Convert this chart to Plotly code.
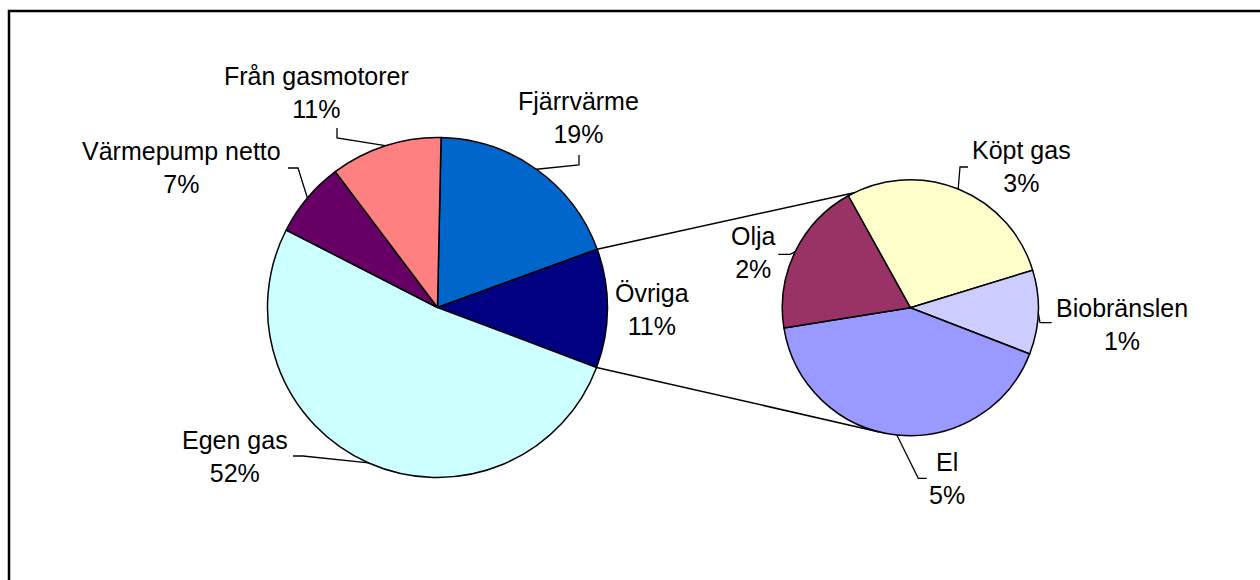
import math
import plotly.graph_objects as go

# ---------------- data ----------------
main_labels = ["Fjärrvärme", "Övriga", "Egen gas", "Värmepump netto", "Från gasmotorer"]
main_values = [19.1, 11.3, 51.8, 7.2, 10.6]
main_colors = ["#0066CC", "#000080", "#CCFFFF", "#660066", "#FF8080"]

sec_labels = ["Köpt gas", "Biobränslen", "El", "Olja"]
sec_values = [3.2, 1.2, 4.7, 2.2]
sec_colors = ["#FFFFCC", "#CCCCFF", "#9999FF", "#993366"]

# ---------------- geometry / style ----------------
W, H = 1260, 580
MAIN_C, MAIN_R, MAIN_ROT = (437.5, 307.5), 170.0, 1.2
SEC_C, SEC_R, SEC_ROT = (910.3, 307.7), 128.0, 331.0
SPLIT_INDEX = 1  # "Övriga" is exploded into the secondary pie
SEC_CONNECT_ANGLES = (334.0, 194.0)
FONT = dict(family="Liberation Sans, Arial, sans-serif", size=25, color="black")

# label centres and leader elbows (pixels)
main_label_layout = {
    "Fjärrvärme": ((578, 118), [(579, 165), (579, 155)]),
    "Övriga": ((652, 309), None),
    "Egen gas": ((235, 456), [(303, 456), (293, 456)]),
    "Värmepump netto": ((182, 167.5), [(298, 168), (288, 168)]),
    "Från gasmotorer": ((316, 92.5), [(337, 138), (337, 128)]),
}
sec_label_layout = {
    "Köpt gas": ((1021.7, 167), [(960, 167), (968, 167)]),
    "Biobränslen": ((1121.7, 324), [(1040, 322.7), (1051.7, 322.7)]),
    "El": ((947, 478), [(918.3, 478.3), (926.7, 478.3)]),
    "Olja": ((753, 253), [(790, 254.3), (778.3, 254.3)]),
}


def px(x):
    return x / W


def py(y):
    return 1 - y / H


def edge_point(center, r, ang_deg):
    a = math.radians(ang_deg)
    return center[0] + r * math.sin(a), center[1] - r * math.cos(a)


def domain(center, r):
    return dict(x=[px(center[0] - r), px(center[0] + r)],
                y=[py(center[1] + r), py(center[1] - r)])


def slice_angles(values, rot):
    tot = sum(values)
    out, cum = [], 0.0
    for v in values:
        a0 = rot + 360 * cum / tot
        cum += v
        a1 = rot + 360 * cum / tot
        out.append((a0, a1))
    return out


total = sum(main_values)

fig = go.Figure()
fig.add_trace(go.Pie(
    labels=main_labels, values=main_values, sort=False, direction="clockwise",
    rotation=MAIN_ROT, textinfo="none", showlegend=False,
    marker=dict(colors=main_colors, line=dict(color="black", width=1.5)),
    domain=domain(MAIN_C, MAIN_R),
))
fig.add_trace(go.Pie(
    labels=sec_labels, values=sec_values, sort=False, direction="clockwise",
    rotation=SEC_ROT, textinfo="none", showlegend=False,
    marker=dict(colors=sec_colors, line=dict(color="black", width=1.5)),
    domain=domain(SEC_C, SEC_R),
))

shapes = []
annotations = []


def add_poly(points, width=1.3):
    path = "M " + " L ".join(f"{px(x)},{py(y)}" for x, y in points)
    shapes.append(dict(type="path", path=path, xref="paper", yref="paper",
                       line=dict(color="black", width=width)))


def add_labels(labels, values, center, r, rot, layout):
    for (lab, v), (a0, a1) in zip(zip(labels, values), slice_angles(values, rot)):
        (cx, cy), elbows = layout[lab]
        pct = round(v / total * 100)
        annotations.append(dict(x=px(cx), y=py(cy), xref="paper", yref="paper",
                                text=f"{lab}<br>{pct}%", showarrow=False,
                                xanchor="center", yanchor="middle", font=FONT))
        if elbows:
            start = edge_point(center, r, (a0 + a1) / 2)
            add_poly([start] + elbows)


add_labels(main_labels, main_values, MAIN_C, MAIN_R, MAIN_ROT, main_label_layout)
add_labels(sec_labels, sec_values, SEC_C, SEC_R, SEC_ROT, sec_label_layout)

# connector lines between the Övriga slice and the secondary pie
a0, a1 = slice_angles(main_values, MAIN_ROT)[SPLIT_INDEX]
add_poly([edge_point(MAIN_C, MAIN_R, a0), edge_point(SEC_C, SEC_R, SEC_CONNECT_ANGLES[0])], 1.5)
add_poly([edge_point(MAIN_C, MAIN_R, a1), edge_point(SEC_C, SEC_R, SEC_CONNECT_ANGLES[1])], 1.5)

# chart-area frame
shapes.append(dict(type="rect", xref="paper", yref="paper",
                   x0=px(9), x1=px(W + 5), y0=py(H + 5), y1=py(11),
                   line=dict(color="black", width=2.5)))

fig.update_layout(
    width=W, height=H, margin=dict(l=0, r=0, t=0, b=0),
    paper_bgcolor="white", plot_bgcolor="white",
    shapes=shapes, annotations=annotations, font=FONT,
)

fig.write_html(
    "out.html",
    config={"displayModeBar": False},
    post_script="document.body.style.margin='0';document.body.style.overflow='hidden';",
)
